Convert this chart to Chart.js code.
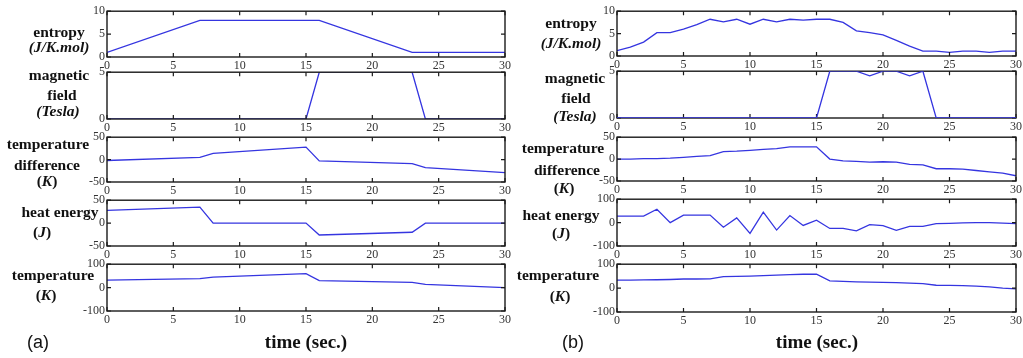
<!DOCTYPE html>
<html><head><meta charset="utf-8">
<script src="https://cdn.jsdelivr.net/npm/chart.js@4"></script>
<style>
body{margin:0;width:1023px;height:358px;background:#fff;position:relative;overflow:hidden}
canvas{position:absolute}
.lb{position:absolute;font:bold 15.5px/15px "Liberation Serif",serif;color:#111;white-space:nowrap;transform:translateX(-50%)}
</style></head><body>
<script>
// ---------- data (a) ----------
const timeA_entropy = [0, 7, 16, 23, 30];
const entropyA      = [1, 8, 8, 1, 1];
const timeA_field   = [0, 15, 16, 23, 24, 30];
const fieldA        = [0, 0, 5, 5, 0, 0];
const timeA_tdiff   = [0, 7, 8, 15, 16, 23, 24, 30];
const tdiffA        = [-2, 5, 14, 28, -3, -9, -18, -29];
const timeA_heat    = [0, 7, 8, 15, 16, 23, 24, 30];
const heatA         = [28, 35, 0, 0, -26, -20, 0, 0];
const timeA_temp    = [0, 7, 8, 15, 16, 23, 24, 30];
const tempA         = [32, 38, 45, 60, 30, 22, 14, 0];
// ---------- data (b) ----------
const timeB    = [0,1,2,3,4,5,6,7,8,9,10,11,12,13,14,15,16,17,18,19,20,21,22,23,24,25,26,27,28,29,30];
const entropyB = [1.2,2,3.1,5.2,5.2,6,7,8.2,7.6,8.2,7.1,8.2,7.6,8.2,8,8.2,8.2,7.5,5.6,5.2,4.7,3.5,2.2,1.1,1.1,0.8,1.1,1.1,0.8,1.1,1.1];
const fieldB   = [0,0,0,0,0,0,0,0,0,0,0,0,0,0,0,0,5,5,5,4.5,5,5,4.5,5,0,0,0,0,0,0,0];
const tdiffB   = [0,0,1,1,2,4,6,8,17,18,20,22,24,28,28,28,0,-4,-5,-7,-6,-7,-12,-13,-22,-22,-23,-26,-29,-32,-38];
const heatB    = [28,28,28,57,0,32,32,32,-20,20,-46,45,-32,30,-12,10,-25,-25,-35,-9,-13,-33,-16,-16,-4,-3,-1,0,0,-2,-4];
const tempB    = [33,33,34,35,36,38,38,39,48,49,50,52,54,56,58,58,30,28,26,25,24,23,21,19,12,11,10,8,5,0,-3];
// ---------- tick labels ----------
const xTicks = [0, 5, 10, 15, 20, 25, 30];

const pts = (xs, ys) => xs.map((v, i) => ({x: v, y: ys[i]}));

function drawFrame(chart){
  const {ctx, chartArea:a, scales:{x, y}} = chart;
  ctx.save();
  ctx.strokeStyle = '#1a1a1a'; ctx.lineWidth = 1.4;
  ctx.strokeRect(a.left, a.top, a.right - a.left, a.bottom - a.top);
  ctx.lineWidth = 1.2;
  ctx.beginPath();
  x.ticks.forEach(t => { const p = x.getPixelForValue(t.value);
    ctx.moveTo(p, a.top); ctx.lineTo(p, a.top + 4);
    ctx.moveTo(p, a.bottom); ctx.lineTo(p, a.bottom - 4); });
  y.ticks.forEach(t => { const p = y.getPixelForValue(t.value);
    ctx.moveTo(a.left, p); ctx.lineTo(a.left + 4, p);
    ctx.moveTo(a.right, p); ctx.lineTo(a.right - 4, p); });
  ctx.stroke();
  ctx.restore();
}
const framePlugin = {
  id: 'frame',
  beforeDatasetsDraw(chart, args, o){ if (!o.over) drawFrame(chart); },
  afterDatasetsDraw(chart, args, o){ if (o.over) drawFrame(chart); }
};

const PL = 32, PT = 8, PR = 12, PB = 18;
function panel(left, top, right, bottom, data, ymin, ymax, ystep, over){
  const c = document.createElement('canvas');
  const w = right - left + PL + PR, h = bottom - top + PT + PB;
  c.width = w; c.height = h;
  c.style.left = (left - PL) + 'px'; c.style.top = (top - PT) + 'px';
  c.style.width = w + 'px'; c.style.height = h + 'px';
  document.body.appendChild(c);
  const tf = {family: '"Liberation Serif", serif', size: 12};
  new Chart(c, {
    type: 'line',
    data: {datasets: [{data, borderColor: '#3535e0', borderWidth: 1.3, pointRadius: 0, tension: 0, fill: false}]},
    options: {
      responsive: false, animation: false, devicePixelRatio: 1,
      layout: {padding: {left: 0, top: PT, right: PR, bottom: 0}},
      plugins: {legend: {display: false}, tooltip: {enabled: false}, frame: {over}},
      scales: {
        x: {type: 'linear', min: 0, max: 30,
            afterBuildTicks: s => { s.ticks = xTicks.map(v => ({value: v})); },
            afterFit: s => { s.height = PB; },
            grid: {display: false, drawTicks: false}, border: {display: false},
            ticks: {font: tf, color: '#333', padding: 2, maxRotation: 0, autoSkip: false}},
        y: {min: ymin, max: ymax,
            ticks: {stepSize: ystep, font: tf, color: '#333', padding: 2},
            afterFit: s => { s.width = PL; },
            grid: {display: false, drawTicks: false}, border: {display: false}}
      }
    },
    plugins: [framePlugin]
  });
}

// (a)
const aL = 107, aR = 505;
panel(aL, 10, aR, 57, pts(timeA_entropy, entropyA), 0, 10, 5, true);
panel(aL, 71, aR, 119, pts(timeA_field, fieldA), 0, 5, 5, true);
panel(aL, 136, aR, 182, pts(timeA_tdiff, tdiffA), -50, 50, 50, true);
panel(aL, 199, aR, 246, pts(timeA_heat, heatA), -50, 50, 50, true);
panel(aL, 263, aR, 311, pts(timeA_temp, tempA), -100, 100, 100, true);
// (b)
const bL = 617, bR = 1016;
panel(bL, 10, bR, 56, pts(timeB, entropyB), 0, 10, 5, true);
panel(bL, 70, bR, 118, pts(timeB, fieldB), 0, 5, 5, false);
panel(bL, 136, bR, 181, pts(timeB, tdiffB), -50, 50, 50, true);
panel(bL, 198, bR, 246, pts(timeB, heatB), -100, 100, 100, true);
panel(bL, 263, bR, 312, pts(timeB, tempB), -100, 100, 100, true);

// y-axis titles: [html, centre x, baseline y]
const titles = [
  ['entropy', 59, 36], ['<i>(J/K.mol)</i>', 59, 51],
  ['magnetic', 59, 79], ['field', 62, 99], ['<i>(Tesla)</i>', 58, 115],
  ['temperature', 48, 148], ['difference', 47, 169], ['(<i>K</i>)', 47, 185],
  ['heat energy', 60, 216], ['(<i>J</i>)', 42, 236],
  ['temperature', 53, 279], ['(<i>K</i>)', 46, 299],
  ['entropy', 571, 27], ['<i>(J/K.mol)</i>', 571, 47],
  ['magnetic', 575, 82], ['field', 576, 102], ['<i>(Tesla)</i>', 575, 120],
  ['temperature', 563, 152], ['difference', 567, 174], ['(<i>K</i>)', 564, 192],
  ['heat energy', 561, 219], ['(<i>J</i>)', 561, 237],
  ['temperature', 558, 279], ['(<i>K</i>)', 560, 300]
];
titles.forEach(([t, x, b]) => {
  const d = document.createElement('div');
  d.className = 'lb'; d.innerHTML = t;
  d.style.left = x + 'px'; d.style.top = (b - 12) + 'px';
  document.body.appendChild(d);
});
const extra = [
  ['(a)', 38, 347, '18px "Liberation Sans",sans-serif'],
  ['time (sec.)', 306, 347, 'bold 19px "Liberation Serif",serif'],
  ['(b)', 573, 347, '18px "Liberation Sans",sans-serif'],
  ['time (sec.)', 817, 347, 'bold 19px "Liberation Serif",serif']
];
extra.forEach(([t, x, b, f]) => {
  const d = document.createElement('div');
  d.style.cssText = 'position:absolute;white-space:nowrap;color:#111;transform:translateX(-50%);font:' + f;
  d.style.lineHeight = '20px';
  d.textContent = t;
  d.style.left = x + 'px'; d.style.top = (b - 15) + 'px';
  document.body.appendChild(d);
});
</script>
</body></html>
